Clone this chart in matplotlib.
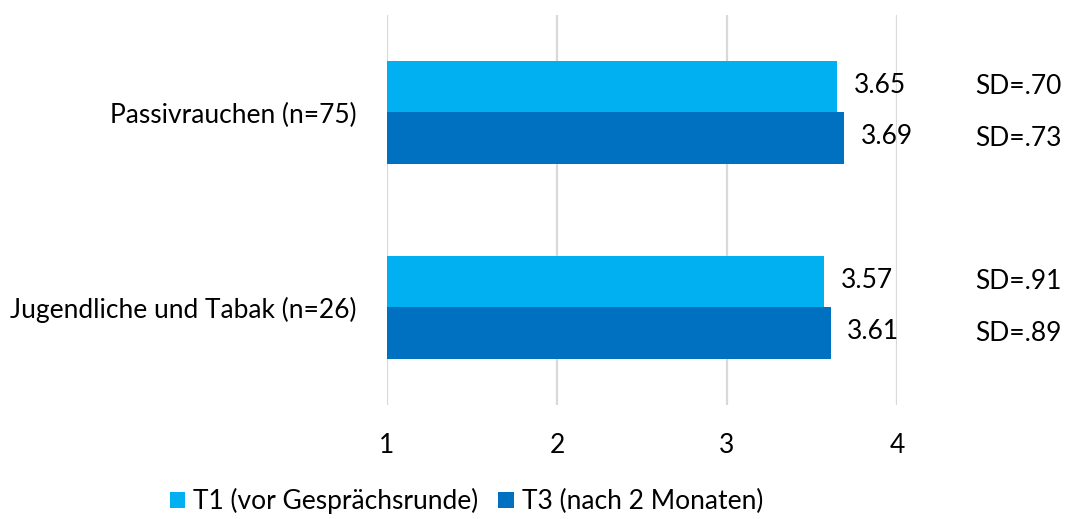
import matplotlib
matplotlib.use("Agg")
import matplotlib.pyplot as plt
import numpy as np

categories = ["Passivrauchen (n=75)", "Jugendliche und Tabak (n=26)"]
series_names = ["T1 (vor Gesprächsrunde)", "T3 (nach 2 Monaten)"]
t1_means = [3.65, 3.57]
t3_means = [3.69, 3.61]
t1_sd = [".70", ".91"]
t3_sd = [".73", ".89"]
colors = ["#00B0F0", "#0070C0"]

plt.rcParams['font.family'] = ['Lato', 'DejaVu Sans']
fs = 19

fig = plt.figure(figsize=(10.75, 5.19), dpi=100)
ax = fig.add_axes([0.36, 0.22, 0.4744, 0.751])

y = np.arange(len(categories))
h = 0.265
base = 1

bars1 = ax.barh(y - h / 2, np.array(t1_means) - base, height=h, left=base,
                color=colors[0], label=series_names[0], zorder=3)
bars2 = ax.barh(y + h / 2, np.array(t3_means) - base, height=h, left=base,
                color=colors[1], label=series_names[1], zorder=3)

for bars, vals, sds in [(bars1, t1_means, t1_sd), (bars2, t3_means, t3_sd)]:
    for b, v, sd in zip(bars, vals, sds):
        cy = b.get_y() + b.get_height() / 2
        ax.annotate(f"{v:.2f}", (v, cy), xytext=(12, 1), textcoords="offset points",
                    va="center", ha="left", fontsize=fs, color="#000000")
        ax.text(4.46, cy, f"SD={sd}", va="center", ha="left", fontsize=fs,
                color="#000000", clip_on=False)

ax.set_xlim(1, 4)
ax.set_ylim(1.5, -0.5)
ax.set_xticks([1, 2, 3, 4])
ax.set_yticks(y)
ax.set_yticklabels(categories)
ax.tick_params(axis="both", length=0, labelsize=fs, colors="#000000")
ax.tick_params(axis="x", pad=20)
ax.tick_params(axis="y", pad=22)
ax.xaxis.grid(True, color="#D9D9D9", linewidth=1.6, zorder=0)
for s in ax.spines.values():
    s.set_visible(False)

fig.legend(loc="center", bbox_to_anchor=(0.434, 0.034), ncol=2, frameon=False,
           fontsize=fs, handlelength=0.6, handleheight=0.6, handletextpad=0.3,
           columnspacing=0.75)

fig.savefig("out.png", dpi=100)
